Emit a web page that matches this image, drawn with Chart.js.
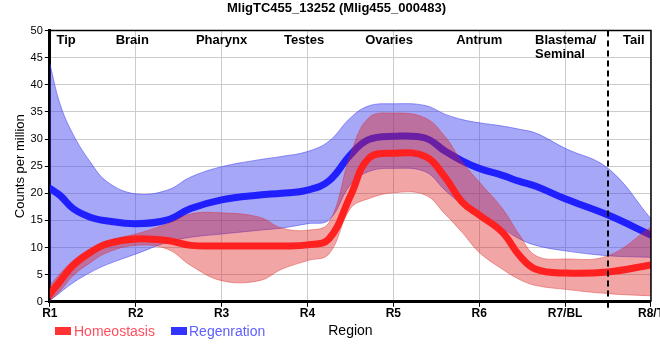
<!DOCTYPE html>
<html>
<head>
<meta charset="utf-8">
<script src="https://cdn.jsdelivr.net/npm/chart.js@4.4.1/dist/chart.umd.min.js"></script>
<style>
  html, body { margin: 0; padding: 0; overflow: hidden; background: #fff; }
  #wrap { position: relative; width: 664px; height: 360px; }
  .box { position: absolute; top: 327px; width: 16px; height: 8px; }
  .lab { position: absolute; top: 322px; font: 14px "Liberation Sans", Arial, sans-serif; line-height: 18px; }
</style>
</head>
<body>
<div id="wrap">
  <canvas id="chart"></canvas>
  <div class="box" style="left:55px;background:#ff3333"></div>
  <div class="lab" style="left:74px;color:#ff4f5f">Homeostasis</div>
  <div class="box" style="left:171px;background:#3333ff"></div>
  <div class="lab" style="left:189px;color:#5f5fff">Regenration</div>
</div>
<script>
// positions along the body (1 = R1 ... 8 = R8/T)
const positions = [1, 1.12, 1.27, 1.47, 1.67, 2, 2.37, 2.64, 3, 3.44, 3.7, 4, 4.25, 4.5, 4.71, 5, 5.37, 5.6, 5.8, 6, 6.27, 6.47, 6.66, 7, 7.5, 8];
const tickLabels = ['R1', 'R2', 'R3', 'R4', 'R5', 'R6', 'R7/BL', 'R8/T'];

// Homeostasis
const homeo   = [1.4, 3.8, 6.7, 9.1, 10.7, 11.6, 11.3, 10.4, 10.3, 10.3, 10.3, 10.5, 11.6, 19.5, 26.4, 27.4, 26.8, 23.0, 18.4, 16.0, 12.8, 8.5, 6.0, 5.3, 5.5, 6.8];
const homeoHi = [3.0, 5.2, 7.6, 9.8, 11.3, 12.5, 14.4, 16.2, 16.4, 15.6, 13.6, 13.2, 14.6, 27.1, 33.9, 34.8, 33.9, 30.5, 25.8, 22.1, 17.2, 12.3, 8.5, 7.9, 8.5, 13.8];
const homeoLo = [0.2, 2.0, 4.8, 7.2, 9.1, 10.4, 9.7, 6.7, 3.9, 3.9, 6.0, 7.6, 8.8, 17.2, 19.0, 20.1, 19.7, 16.2, 12.8, 9.1, 6.0, 4.1, 3.0, 2.3, 1.5, 1.1];

// Regeneration
const regen   = [20.9, 19.6, 17.2, 15.6, 14.9, 14.4, 15.1, 17.2, 18.8, 19.7, 20.0, 20.6, 22.3, 27.1, 29.9, 30.5, 30.2, 27.8, 26.0, 24.6, 23.3, 22.2, 21.3, 19.0, 16.0, 12.3];
const regenHi = [43.9, 36.4, 30.9, 25.8, 22.1, 19.9, 20.6, 23.0, 24.9, 26.2, 26.8, 27.7, 29.6, 33.9, 36.1, 36.5, 36.2, 34.6, 33.6, 33.0, 32.4, 31.8, 31.1, 28.3, 24.6, 15.3];
const regenLo = [0.2, 1.7, 3.5, 5.4, 6.9, 8.8, 11.0, 11.9, 12.5, 13.2, 13.6, 14.4, 15.1, 21.6, 24.0, 24.6, 24.0, 20.6, 18.0, 16.0, 13.5, 11.6, 10.4, 9.4, 8.5, 8.2];

// region names written across the top of the plot
const regionNames = ['Tip', 'Brain', 'Pharynx', 'Testes', 'Ovaries', 'Antrum', 'Blastema/\nSeminal', 'Tail'];
const regionAt = [1.19, 1.96, 3.0, 3.96, 4.95, 6.0, 6.65, 7.8];
const tailBoundary = 7.5;

function pts(values) {
    return positions.map((x, i) => ({ x: x, y: values[i] }));
}

const bandOpts = { pointRadius: 0, tension: 0.4, borderWidth: 1 };

// extras: region names, dashed tail line, thin top/right frame
const extras = {
    id: 'extras',
    afterDatasetsDraw(chart) {
        const ctx = chart.ctx;
        const a = chart.chartArea;
        const x = chart.scales.x;
        ctx.save();
        ctx.fillStyle = '#000';
        ctx.font = 'bold 13px "Liberation Sans", Arial, sans-serif';
        ctx.textBaseline = 'middle';
        regionNames.forEach((name, i) => {
            const lines = name.split('\n');
            const px = x.getPixelForValue(regionAt[i]);
            ctx.textAlign = lines.length > 1 ? 'left' : 'center';
            lines.forEach((t, j) => ctx.fillText(t, px, a.top + 10 + j * 14));
        });
        // dashed boundary
        const dx = Math.round(x.getPixelForValue(tailBoundary));
        ctx.strokeStyle = '#000';
        ctx.lineWidth = 2;
        ctx.setLineDash([6, 4]);
        ctx.beginPath();
        ctx.moveTo(dx, a.top);
        ctx.lineTo(dx, a.bottom);
        ctx.stroke();
        ctx.setLineDash([]);
        ctx.beginPath();
        ctx.moveTo(dx, a.bottom);
        ctx.lineTo(dx, a.bottom + 6);
        ctx.stroke();
        // frame
        ctx.lineWidth = 1.5;
        ctx.beginPath();
        ctx.moveTo(a.left, a.top);
        ctx.lineTo(a.right, a.top);
        ctx.lineTo(a.right, a.bottom);
        ctx.stroke();
        ctx.restore();
    }
};

Chart.defaults.font.family = '"Liberation Sans", Arial, sans-serif';
Chart.defaults.color = '#000';

const ctx = document.getElementById('chart').getContext('2d');
new Chart(ctx, {
    type: 'line',
    data: {
        datasets: [
            Object.assign({ label: 'regenHi', data: pts(regenHi), fill: '+1', order: 3,
                borderColor: 'rgba(70,70,240,0.55)', backgroundColor: 'rgba(60,60,240,0.45)' }, bandOpts),
            Object.assign({ label: 'regenLo', data: pts(regenLo), fill: false, order: 3,
                borderColor: 'rgba(70,70,240,0.55)' }, bandOpts),
            { label: 'Regenration', data: pts(regen), fill: false, order: 2, pointRadius: 0,
                tension: 0.4, borderColor: '#2020ff', borderWidth: 7, borderCapStyle: 'round' },
            Object.assign({ label: 'homeoHi', data: pts(homeoHi), fill: '+1', order: 1,
                borderColor: 'rgba(220,40,40,0.4)', backgroundColor: 'rgba(220,30,30,0.4)' }, bandOpts),
            Object.assign({ label: 'homeoLo', data: pts(homeoLo), fill: false, order: 1,
                borderColor: 'rgba(220,40,40,0.4)' }, bandOpts),
            { label: 'Homeostasis', data: pts(homeo), fill: false, order: 0, pointRadius: 0,
                tension: 0.4, borderColor: '#ff2020', borderWidth: 7, borderCapStyle: 'round' }
        ]
    },
    options: {
        responsive: true,
        maintainAspectRatio: false,
        animation: false,
        layout: { padding: { left: 9, right: 0, top: 0, bottom: 16 } },
        plugins: {
            legend: { display: false },
            tooltip: { enabled: false },
            title: {
                display: true,
                text: 'MligTC455_13252 (Mlig455_000483)',
                font: { size: 13, weight: 'bold' },
                padding: { top: 1, bottom: 14 }
            }
        },
        scales: {
            x: {
                type: 'linear',
                min: 1,
                max: 8,
                ticks: {
                    stepSize: 1,
                    autoSkip: false,
                    maxRotation: 0,
                    padding: 0,
                    font: { size: 12, weight: 'bold' },
                    callback: v => tickLabels[v - 1]
                },
                grid: { color: '#cccccc', tickColor: '#000', tickLength: 5 },
                border: { color: '#000', width: 3 },
                title: { display: true, text: 'Region', font: { size: 14 }, padding: { top: 2 } }
            },
            y: {
                min: 0,
                max: 50,
                ticks: { stepSize: 5, font: { size: 11 }, padding: 2 },
                grid: { color: '#cccccc', tickColor: '#000', tickLength: 5 },
                border: { color: '#000', width: 3 },
                title: { display: true, text: 'Counts per million', font: { size: 13 }, padding: { bottom: 0 } }
            }
        }
    },
    plugins: [extras]
});
</script>
</body>
</html>
